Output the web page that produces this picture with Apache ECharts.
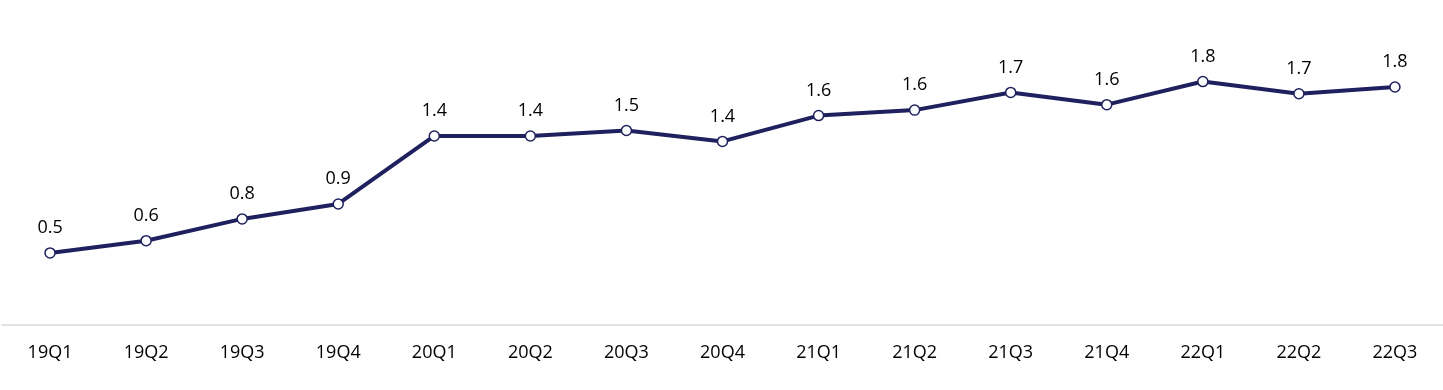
<!DOCTYPE html>
<html>
<head>
<meta charset="utf-8">
<script src="https://cdn.jsdelivr.net/npm/echarts@6/dist/echarts.min.js"></script>
<style>html,body{margin:0;padding:0;background:#fff;}#c{width:1443px;height:390px;}</style>
</head>
<body>
<div id="c"></div>
<script>
const categories = ['19Q1','19Q2','19Q3','19Q4','20Q1','20Q2','20Q3','20Q4','21Q1','21Q2','21Q3','21Q4','22Q1','22Q2','22Q3'];
const values = [0.53, 0.62, 0.78, 0.89, 1.39, 1.39, 1.43, 1.35, 1.54, 1.58, 1.71, 1.62, 1.79, 1.70, 1.75];
const labels = ['0.5','0.6','0.8','0.9','1.4','1.4','1.5','1.4','1.6','1.6','1.7','1.6','1.8','1.7','1.8'];

const chart = echarts.init(document.getElementById('c'));
chart.setOption({
  animation: false,
  grid: { left: 2, right: 0, top: 25.8, bottom: 65 },
  xAxis: {
    type: 'category',
    data: categories,
    boundaryGap: true,
    axisLine: { show: true, lineStyle: { color: '#d9d9d9', width: 1.5 } },
    axisTick: { show: false },
    axisLabel: { color: '#000', fontSize: 18, fontFamily: 'Open Sans', margin: 19 },
    splitLine: { show: false }
  },
  yAxis: { type: 'value', min: 0, max: 2.2, show: false, splitLine: { show: false } },
  series: [{
    type: 'line',
    data: values,
    symbol: 'circle',
    symbolSize: 10,
    lineStyle: { color: '#1f215e', width: 4 },
    itemStyle: { color: '#fff', borderColor: '#1f215e', borderWidth: 1.5 },
    label: {
      show: true, position: 'top', distance: 10,
      color: '#000', fontSize: 18, fontFamily: 'Open Sans',
      formatter: p => labels[p.dataIndex]
    }
  }]
});
</script>
</body>
</html>
